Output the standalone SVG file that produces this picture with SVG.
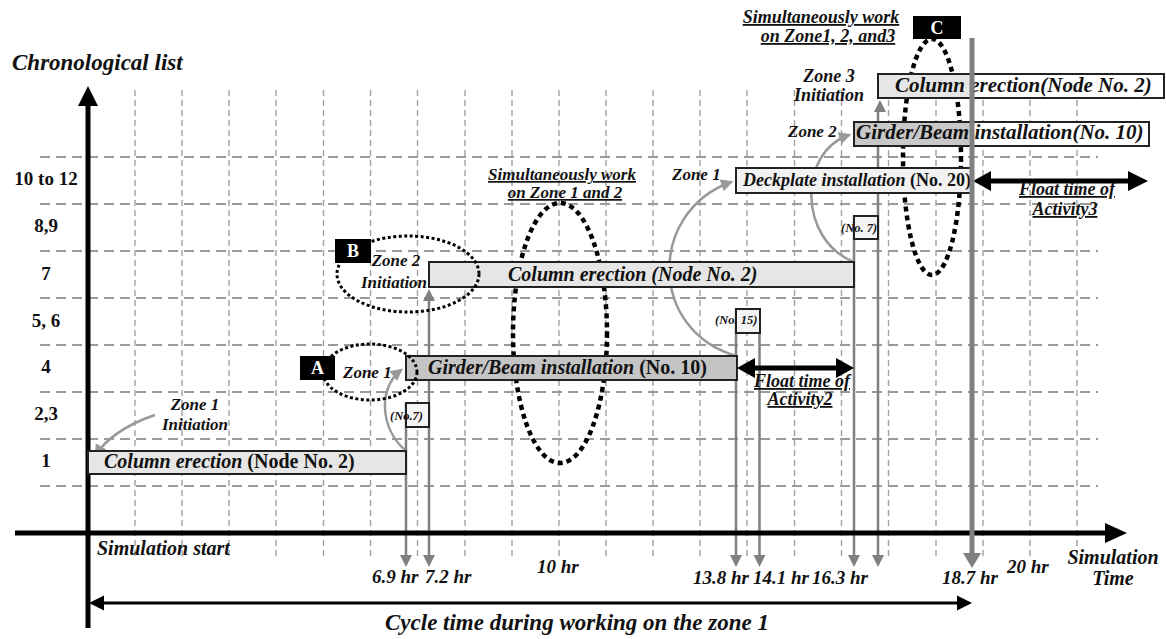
<svg xmlns="http://www.w3.org/2000/svg" width="1166" height="639" viewBox="0 0 1166 639">
<style>
text{font-family:"Liberation Serif","Times New Roman",serif;font-weight:bold;fill:#111}
.bi{font-style:italic}
.n{font-style:normal}
.gh{stroke:#9a9a9a;stroke-width:2;stroke-dasharray:10 6;fill:none}
.gv{stroke:#a0a0a0;stroke-width:1.4;stroke-dasharray:6 4;fill:none}
.bar{stroke:#222;stroke-width:2}
.tl{stroke:#808080;stroke-width:2.5;fill:none}
.cv{stroke:#999;stroke-width:2.5;fill:none}
.gah{fill:#808080}
.big{fill:none;stroke:#000;stroke-width:4.5;stroke-dasharray:5 4}
.sm{fill:none;stroke:#000;stroke-width:3;stroke-dasharray:3 2.5}
.u{text-decoration:underline}
.box{fill:#f4f4f4;stroke:#222;stroke-width:2}
</style>
<defs>
<marker id="ga" viewBox="0 0 10 10" refX="8" refY="5" markerWidth="5" markerHeight="5" orient="auto" markerUnits="strokeWidth">
<path d="M0,0 L10,5 L0,10 z" fill="#999"/>
</marker>
</defs>
<rect width="1166" height="639" fill="#fff"/>

<g id="grid">
<path class="gh" d="M40,157H1098M40,204H1098M40,251H1098M40,298H1098M40,345H1098M40,392H1098M40,439H1098M40,486H1098"/>
<path class="gv" d="M135,90V557M182,90V557M229,90V557M276,90V557M323.5,90V557M370.5,90V557M417.5,90V557M465,90V557M512,90V557M559,90V557M606,90V557M653,90V557M700,90V557M747,90V557M794.5,90V557M841.5,90V557M888.5,90V557M936,90V557M983,90V557M1030,90V557M1077,90V557"/>
</g>

<g id="ellipses-back">
<ellipse class="big" cx="560" cy="333" rx="47" ry="130"/>
<ellipse class="big" cx="932" cy="157" rx="29" ry="118"/>
</g>

<g id="connectors">
<path class="tl" d="M406,403V556"/>
<path class="tl" d="M429,300V556"/>
<path class="tl" d="M736,309V556"/>
<path class="tl" d="M759.5,309V556"/>
<path class="tl" d="M854,216V556"/>
<path class="tl" d="M878,110V556"/>
<polygon class="gah" points="406,567 400,555 412,555"/>
<polygon class="gah" points="429,567 423,555 435,555"/>
<polygon class="gah" points="736,567 730,555 742,555"/>
<polygon class="gah" points="759.5,567 753.5,555 765.5,555"/>
<polygon class="gah" points="854,567 848,555 860,555"/>
<polygon class="gah" points="878,567 872,555 884,555"/>
<polygon class="gah" points="429,289 423,301 435,301"/>
<polygon class="gah" points="880,100 874,112 886,112"/>
<path class="cv" d="M155,415 C125,425 105,440 96,455" marker-end="url(#ga)"/>
<path class="cv" d="M405,450 C380,428 378,388 401,370" marker-end="url(#ga)"/>
<path class="cv" d="M736,356 C648,330 648,212 731,182" marker-end="url(#ga)"/>
<path class="cv" d="M854,262 C798,240 798,152 849,135" marker-end="url(#ga)"/>
</g>

<g id="axes">
<path d="M88,628V104" stroke="#000" stroke-width="5"/>
<polygon points="88,86 78,106 98,106" fill="#000"/>
<path d="M15,533H1108" stroke="#000" stroke-width="5"/>
<polygon points="1127,533 1105,523 1105,543" fill="#000"/>
<path d="M100,603H960" stroke="#000" stroke-width="3"/>
<polygon points="89,603 104,595.5 104,610.5" fill="#000"/>
<polygon points="972,603 957,595.5 957,610.5" fill="#000"/>
</g>

<g id="float2">
<path d="M750,368H840" stroke="#000" stroke-width="5"/>
<polygon points="737,368 755,358 755,378" fill="#000"/>
<polygon points="854,368 836,358 836,378" fill="#000"/>
<text class="bi u" x="802" y="387" font-size="18" text-anchor="middle">Float time of</text>
<text class="bi u" x="800" y="405" font-size="18" text-anchor="middle">Activity2</text>
</g>
<g id="float3">
<path d="M988,181H1132" stroke="#000" stroke-width="5"/>
<polygon points="973,181 991,171 991,191" fill="#000"/>
<polygon points="1148,181 1128,171 1128,191" fill="#000"/>
<text class="bi u" x="1067" y="195" font-size="18" text-anchor="middle">Float time of</text>
<text class="bi u" x="1065" y="215" font-size="18" text-anchor="middle">Activity3</text>
</g>

<g id="bar1">
<rect class="bar" x="88" y="451" width="318" height="23" fill="#e6e6e6"/>
<text x="104" y="468" font-size="20"><tspan class="bi">Column erection</tspan><tspan class="n"> (Node No. 2)</tspan></text>
</g>
<g id="bar2">
<rect class="bar" x="406" y="356" width="331" height="24" fill="#c4c4c4"/>
<text x="428" y="374" font-size="20"><tspan class="bi">Girder/Beam installation</tspan><tspan class="n"> (No. 10)</tspan></text>
</g>
<g id="bar3">
<rect class="bar" x="429" y="262" width="425" height="25" fill="#e6e6e6"/>
<text class="bi" x="508" y="281" font-size="20">Column erection (Node No. 2)</text>
</g>
<g id="bar4">
<rect class="bar" x="736" y="168" width="236" height="25" fill="#f2f2f2"/>
<text x="743" y="186" font-size="18"><tspan class="bi">Deckplate installation</tspan><tspan class="n"> (No. 20)</tspan></text>
</g>
<g id="bar5">
<rect class="bar" x="854" y="122" width="295" height="24" fill="#fff"/>
<rect x="855" y="123" width="117" height="22" fill="#c8c8c8"/>
<text class="bi" x="856" y="139" font-size="21">Girder/Beam installation(No. 10)</text>
</g>
<g id="bar6">
<rect class="bar" x="878" y="74" width="286" height="24" fill="#fff"/>
<rect x="879" y="75" width="93" height="22" fill="#e6e6e6"/>
<text class="bi" x="895" y="92" font-size="21">Column erection(Node No. 2)</text>
</g>

<g id="marker187">
<path d="M972,38V556" stroke="#808080" stroke-width="5"/>
<polygon points="972,568 963,553 981,553" fill="#808080"/>
</g>

<g id="boxes">
<rect class="box" x="406" y="403" width="23" height="24"/>
<text class="bi" x="390" y="420" font-size="12.5">(No.7)</text>
<rect class="box" x="736" y="309" width="24" height="24"/>
<text class="bi" x="715" y="324" font-size="12.5">(No. 15)</text>
<rect class="box" x="854" y="216" width="24" height="23"/>
<text class="bi" x="841" y="232" font-size="12.5">(No. 7)</text>
</g>

<g id="A">
<ellipse class="sm" cx="370" cy="372" rx="47" ry="28"/>
<rect x="300" y="356" width="35" height="24" fill="#000"/>
<text x="317.5" y="374" font-size="18" text-anchor="middle" style="fill:#fff">A</text>
<text class="bi" x="343" y="378" font-size="17">Zone 1</text>
</g>
<g id="B">
<ellipse class="sm" cx="408" cy="274" rx="71" ry="38"/>
<rect x="335" y="239" width="36" height="24" fill="#000"/>
<text x="353" y="257" font-size="18" text-anchor="middle" style="fill:#fff">B</text>
<text class="bi" x="396" y="266" font-size="17" text-anchor="middle">Zone 2</text>
<text class="bi" x="394" y="288" font-size="17" text-anchor="middle">Initiation</text>
</g>
<g id="C">
<rect x="913" y="16" width="48" height="23" fill="#000"/>
<text x="937" y="34" font-size="18" text-anchor="middle" style="fill:#fff">C</text>
</g>

<g id="labels">
<text class="bi" x="12" y="70" font-size="23">Chronological list</text>
<text x="46" y="185" font-size="19" text-anchor="middle">10 to 12</text>
<text x="46" y="232" font-size="19" text-anchor="middle">8,9</text>
<text x="46" y="280" font-size="19" text-anchor="middle">7</text>
<text x="46" y="327" font-size="19" text-anchor="middle">5, 6</text>
<text x="46" y="373" font-size="19" text-anchor="middle">4</text>
<text x="46" y="420" font-size="19" text-anchor="middle">2,3</text>
<text x="46" y="467" font-size="19" text-anchor="middle">1</text>

<text class="bi" x="195" y="410" font-size="17" text-anchor="middle">Zone 1</text>
<text class="bi" x="195" y="430" font-size="17" text-anchor="middle">Initiation</text>
<text class="bi" x="672" y="180" font-size="17">Zone 1</text>
<text class="bi" x="788" y="137" font-size="17">Zone 2</text>
<text class="bi" x="829" y="82" font-size="18" text-anchor="middle">Zone 3</text>
<text class="bi" x="829" y="101" font-size="18" text-anchor="middle">Initiation</text>

<text class="bi u" x="562" y="180" font-size="17" text-anchor="middle">Simultaneously work</text>
<text class="bi u" x="565" y="198" font-size="17" text-anchor="middle">on Zone 1 and 2</text>
<text class="bi u" x="821" y="23" font-size="18" text-anchor="middle">Simultaneously work</text>
<text class="bi u" x="828" y="42" font-size="18" text-anchor="middle">on Zone1, 2, and3</text>

<text class="bi" x="97" y="555" font-size="20">Simulation start</text>
<text class="bi" x="372" y="583" font-size="19">6.9 hr</text>
<text class="bi" x="425" y="583" font-size="19">7.2 hr</text>
<text class="bi" x="537" y="573" font-size="19">10 hr</text>
<text class="bi" x="693" y="584" font-size="19">13.8 hr</text>
<text class="bi" x="753" y="584" font-size="19">14.1 hr</text>
<text class="bi" x="812" y="584" font-size="19">16.3 hr</text>
<text class="bi" x="942" y="584" font-size="19">18.7 hr</text>
<text class="bi" x="1007" y="573" font-size="19">20 hr</text>
<text class="bi" x="1113" y="564" font-size="20" text-anchor="middle">Simulation</text>
<text class="bi" x="1113" y="585" font-size="20" text-anchor="middle">Time</text>
<text class="bi" x="577" y="630" font-size="23" text-anchor="middle">Cycle time during working on the zone 1</text>
</g>
</svg>
